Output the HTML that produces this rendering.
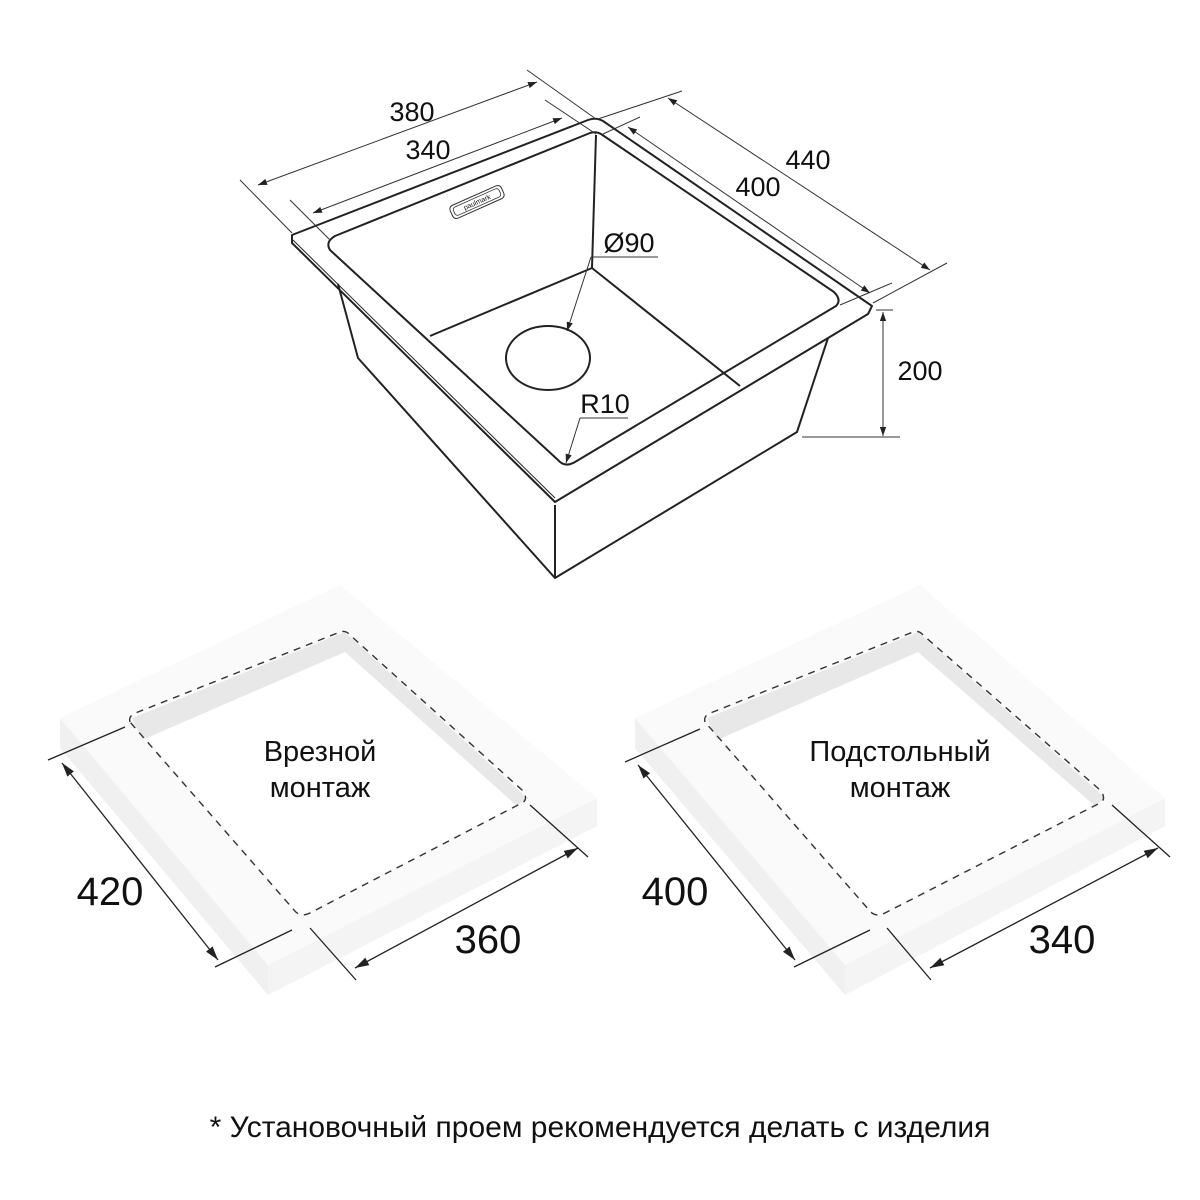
<!DOCTYPE html>
<html><head><meta charset="utf-8"><style>
html,body{margin:0;padding:0;background:#fff}
svg{display:block}
text{font-family:"Liberation Sans","DejaVu Sans",sans-serif;fill:#111}
</style></head><body>
<svg width="1200" height="1200" viewBox="0 0 1200 1200" xmlns="http://www.w3.org/2000/svg">
<defs>
<marker id="a" viewBox="0 0 10 10" refX="10" refY="5" markerWidth="9" markerHeight="9" orient="auto-start-reverse" markerUnits="userSpaceOnUse"><path d="M0,1.5 L10,5 L0,8.5z" fill="#222"/></marker>
<marker id="b" viewBox="0 0 10 10" refX="10" refY="5" markerWidth="14" markerHeight="14" orient="auto-start-reverse" markerUnits="userSpaceOnUse"><path d="M0,2 L10,5 L0,8z" fill="#222"/></marker>
</defs>

<!-- SINK -->
<g fill="none" stroke="#222" stroke-width="2" stroke-linejoin="round">
  <path d="M338,284 L358,358 L555,578 L797,432 L828,338"/>
  <line x1="555" y1="505" x2="555" y2="578"/>
  <path d="M292,235 L588,120 Q596,117 603,121 L872,306 L868,314 L555,502 L292,243 Z"/>
  <path d="M293,240 L555,498" stroke-width="1"/>
  <path d="M335,236 L590,133 Q596,131 601,134 L834,292 Q842,300 836,306 L575,462 Q565,468 558,460 L330,250 Q325,242 335,236 Z"/>
  <path d="M596,135 L592,268 L430,336"/>
  <path d="M592,268 L740,386"/>
  <ellipse cx="548" cy="358" rx="42" ry="32"/>
</g>
<g transform="translate(477,202) rotate(-24)">
  <rect x="-28" y="-7" width="56" height="14" rx="4" fill="none" stroke="#333" stroke-width="1"/>
  <rect x="-25" y="-4.5" width="50" height="9" rx="3" fill="none" stroke="#333" stroke-width="0.8"/>
  <text x="0" y="2.5" font-size="7" text-anchor="middle">paulmark</text>
</g>
<g stroke="#333" stroke-width="1" fill="none">
  <line x1="240" y1="180" x2="292" y2="233"/>
  <line x1="527" y1="70" x2="596" y2="119"/>
  <line x1="258" y1="185" x2="537" y2="82" marker-start="url(#a)" marker-end="url(#a)"/>
  <line x1="290" y1="200" x2="330" y2="240"/>
  <line x1="545" y1="100" x2="596" y2="134"/>
  <line x1="313" y1="213" x2="562" y2="118" marker-start="url(#a)" marker-end="url(#a)"/>
  <line x1="598" y1="119" x2="682" y2="91"/>
  <line x1="873" y1="303" x2="947" y2="263"/>
  <line x1="668" y1="98" x2="930" y2="270" marker-start="url(#a)" marker-end="url(#a)"/>
  <line x1="603" y1="134" x2="640" y2="117"/>
  <line x1="840" y1="305" x2="892" y2="283"/>
  <line x1="628" y1="127" x2="870" y2="293" marker-start="url(#a)" marker-end="url(#a)"/>
  <line x1="876" y1="310" x2="893" y2="310"/>
  <line x1="802" y1="437" x2="900" y2="437"/>
  <line x1="883" y1="312" x2="883" y2="436" marker-start="url(#a)" marker-end="url(#a)"/>
  <line x1="591" y1="257" x2="658" y2="257"/>
  <line x1="591" y1="257" x2="567" y2="331" marker-end="url(#a)"/>
  <line x1="580" y1="418" x2="628" y2="418"/>
  <line x1="580" y1="418" x2="566" y2="463" marker-end="url(#a)"/>
</g>
<g font-size="27">
  <text x="412" y="121" text-anchor="middle">380</text>
  <text x="428" y="159" text-anchor="middle">340</text>
  <text x="808" y="169" text-anchor="middle">440</text>
  <text x="758" y="196" text-anchor="middle">400</text>
  <text x="920" y="380" text-anchor="middle">200</text>
  <text x="629" y="252" text-anchor="middle">Ø90</text>
  <text x="605" y="413" text-anchor="middle">R10</text>
</g>

<!-- LEFT FRAME -->
<g>
  <polygon points="60,718 268,965 268,995 60,748" fill="#f0f0f0"/>
  <polygon points="268,965 597,798 597,826 268,995" fill="#f4f4f4"/>
  <polygon points="60,718 340,585 597,798 268,965" fill="#fafafa"/>
  <polygon points="130,718 345,632 527,800 300,915" fill="#fff"/>
  <polygon points="132,718 345,632 527,798 517,806 345,652 142,740" fill="#e8e8e8"/>
  <path d="M130,722 Q128,715 138,712 L340,632 Q346,630 350,635 L522,790 Q530,800 520,804 L310,913 Q300,918 294,910 Z" fill="none" stroke="#333" stroke-width="1.4" stroke-dasharray="7,6"/>
</g>
<g stroke="#222" stroke-width="1.3" fill="none">
  <line x1="48" y1="760" x2="125" y2="727"/>
  <line x1="215" y1="967" x2="292" y2="930"/>
  <line x1="62" y1="763" x2="218" y2="960" marker-start="url(#b)" marker-end="url(#b)"/>
  <line x1="310" y1="928" x2="356" y2="980"/>
  <line x1="530" y1="805" x2="588" y2="857"/>
  <line x1="355" y1="968" x2="578" y2="848" marker-start="url(#b)" marker-end="url(#b)"/>
</g>
<g font-size="40">
  <text x="110" y="905" text-anchor="middle">420</text>
  <text x="488" y="953" text-anchor="middle">360</text>
</g>
<g font-size="29" text-anchor="middle">
  <text x="320" y="761">Врезной</text>
  <text x="320" y="797">монтаж</text>
</g>

<!-- RIGHT FRAME -->
<g>
  <polygon points="635,718 845,965 845,995 635,748" fill="#f0f0f0"/>
  <polygon points="845,965 1165,798 1165,826 845,995" fill="#f4f4f4"/>
  <polygon points="635,718 920,585 1165,798 845,965" fill="#fafafa"/>
  <polygon points="705,718 918,632 1105,800 875,915" fill="#fff"/>
  <polygon points="707,718 918,632 1105,798 1095,806 918,652 717,740" fill="#e8e8e8"/>
  <path d="M705,722 Q703,715 713,712 L913,632 Q919,630 923,635 L1100,790 Q1108,800 1098,804 L885,913 Q875,918 869,910 Z" fill="none" stroke="#333" stroke-width="1.4" stroke-dasharray="7,6"/>
</g>
<g stroke="#222" stroke-width="1.3" fill="none">
  <line x1="625" y1="762" x2="700" y2="729"/>
  <line x1="794" y1="967" x2="870" y2="930"/>
  <line x1="638" y1="765" x2="795" y2="960" marker-start="url(#b)" marker-end="url(#b)"/>
  <line x1="887" y1="928" x2="931" y2="980"/>
  <line x1="1112" y1="805" x2="1170" y2="857"/>
  <line x1="930" y1="968" x2="1158" y2="848" marker-start="url(#b)" marker-end="url(#b)"/>
</g>
<g font-size="40">
  <text x="675" y="905" text-anchor="middle">400</text>
  <text x="1062" y="953" text-anchor="middle">340</text>
</g>
<g font-size="29" text-anchor="middle">
  <text x="900" y="761">Подстольный</text>
  <text x="900" y="797">монтаж</text>
</g>

<text x="600" y="1137" font-size="30" text-anchor="middle">* Установочный проем рекомендуется делать с изделия</text>
</svg>
</body></html>
